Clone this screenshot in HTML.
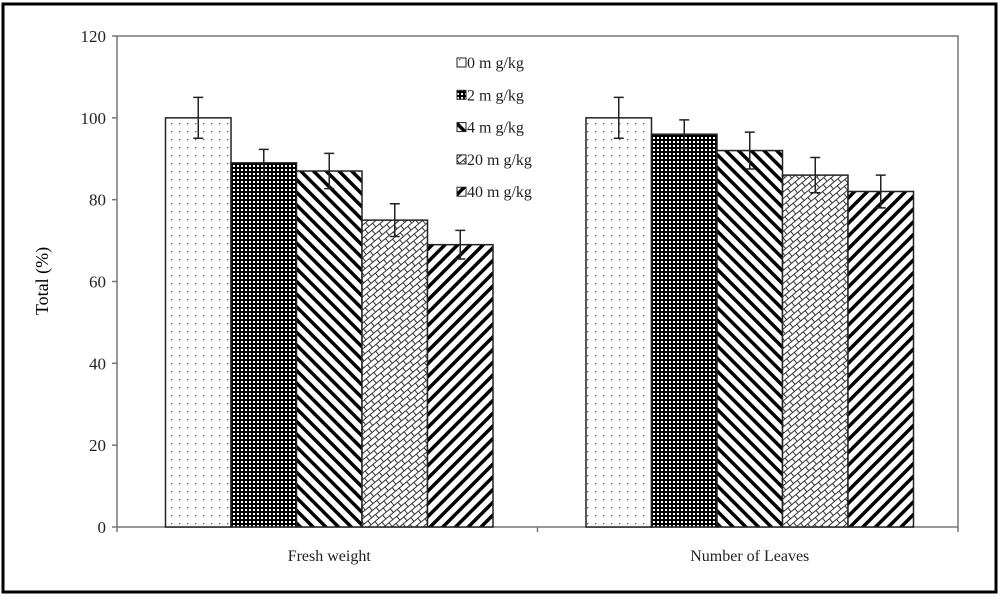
<!DOCTYPE html>
<html><head><meta charset="utf-8"><style>
html,body{margin:0;padding:0;background:#fff}
svg{display:block;font-family:"Liberation Serif",serif}
</style></head><body>
<svg id="chart" width="1000" height="596" viewBox="0 0 1000 596">
<defs>
<pattern id="p0" width="8" height="8" patternUnits="userSpaceOnUse"><rect width="8" height="8" fill="#fff"/><rect x="3" y="3" width="1.3" height="1.3" fill="#555"/></pattern>
<pattern id="p1" width="4" height="4" patternUnits="userSpaceOnUse"><rect width="4" height="4" fill="#000"/><rect x="1" y="1" width="2" height="2" fill="#fff"/></pattern>
<pattern id="p2" width="9" height="9" patternUnits="userSpaceOnUse" patternTransform="rotate(-45)"><rect width="9" height="9" fill="#fff"/><rect x="0" width="3.5" height="9" fill="#000"/></pattern>
<pattern id="p3" width="10" height="10" patternUnits="userSpaceOnUse" patternTransform="rotate(-40)"><rect width="10" height="10" fill="#fff"/><path d="M0 0.5H10 M0 5.5H10 M2 0.5V5.5 M7 5.5V10.5" stroke="#333" stroke-width="1"/></pattern>
<pattern id="p4" width="9" height="9" patternUnits="userSpaceOnUse" patternTransform="rotate(45)"><rect width="9" height="9" fill="#fff"/><rect x="0" width="3.5" height="9" fill="#000"/></pattern>
</defs>
<rect x="3" y="4" width="993" height="588" fill="none" stroke="#000" stroke-width="3"/>
<g id="plot"></g>
<text x="48" y="281" font-size="18" text-anchor="middle" transform="rotate(-90 48 281)">Total (%)</text>
</svg>
<script>
const categories = ["Fresh weight", "Number of Leaves"];
const seriesNames = ["0 m g/kg", "2 m g/kg", "4 m g/kg", "20 m g/kg", "40 m g/kg"];
const freshWeight = [100, 89, 87, 75, 69];
const freshWeightErr = [5, 3.3, 4.3, 4, 3.5];
const numberLeaves = [100, 96, 92, 86, 82];
const numberLeavesErr = [5, 3.5, 4.5, 4.3, 4];
const yTicks = [0, 20, 40, 60, 80, 100, 120];

const NS = "http://www.w3.org/2000/svg";
const L = 117, R = 958, T = 36, B = 527, yMax = 120;
const y = v => B - (v / yMax) * (B - T);
const catW = (R - L) / categories.length;
const barW = 65.5;
const xCenter = i => L + catW * (i + 0.5) + 2;
const g = document.getElementById("plot");
function mk(tag, attrs) { const e = document.createElementNS(NS, tag); for (const k in attrs) e.setAttribute(k, attrs[k]); g.appendChild(e); return e; }

const frame = mk("rect", {x: L, y: T, width: R - L, height: B - T, fill: "none", stroke: "#777", "stroke-width": 1.5});



yTicks.forEach(t => {
  const tk = mk("line", {x1: L - 5, x2: L, y1: y(t), y2: y(t), stroke: "#777", "stroke-width": 1.5});
  
  
  const lb = mk("text", {x: L - 11, y: y(t) + 6, "font-size": 17, "text-anchor": "end", fill: "#222"});
  lb.textContent = t;
  
  
});
for (let i = 0; i <= categories.length; i++) {
  const tk = mk("line", {x1: L + catW * i, x2: L + catW * i, y1: B, y2: B + 5, stroke: "#777", "stroke-width": 1.5});
  
  
}
const vals = [freshWeight, numberLeaves], errs = [freshWeightErr, numberLeavesErr];
categories.forEach((c, ci) => {
  const x0 = xCenter(ci) - barW * seriesNames.length / 2;
  vals[ci].forEach((v, si) => {
    const bx = x0 + si * barW;
    const b = mk("rect", {x: bx, y: y(v), width: barW, height: B - y(v), fill: "url(#p" + si + ")", stroke: "#222", "stroke-width": 1.5});
    
    
    const cx = bx + barW / 2, e = errs[ci][si];
    const eb = mk("path", {d: `M${cx} ${y(v + e)}V${y(v - e)}M${cx - 5} ${y(v + e)}H${cx + 5}M${cx - 5} ${y(v - e)}H${cx + 5}`, stroke: "#222", "stroke-width": 1.5, fill: "none"});
    
    
  });
  const lb = mk("text", {x: xCenter(ci), y: 561, "font-size": 16, "text-anchor": "middle", fill: "#222"});
  lb.textContent = c;
  
  
});
seriesNames.forEach((n, si) => {
  const ly = 63 + si * 32.3;
  const sw = mk("rect", {x: 457, y: ly - 5, width: 9, height: 9, fill: "url(#p" + si + ")", stroke: "#222", "stroke-width": 1});
  
  
  const t = mk("text", {x: 467, y: ly + 5, "font-size": 16, fill: "#222"});
  t.textContent = n;
  
  
});
</script>
</body></html>
